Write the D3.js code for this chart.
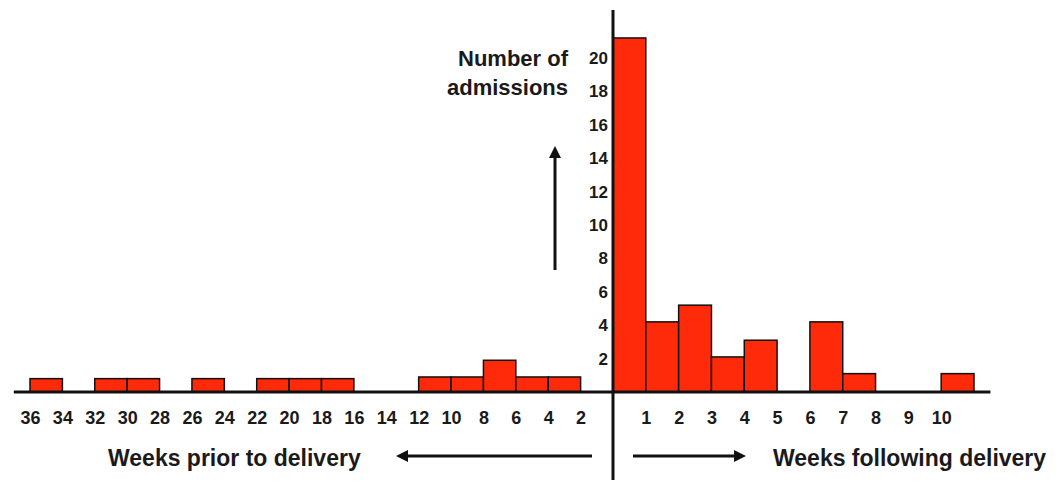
<!DOCTYPE html>
<html lang="en">
    <head>
        <meta charset="utf-8">
        <title>Admissions around delivery</title>
        <script src="https://d3js.org/d3.v7.min.js"></script>
        <style type="text/css">
            body { margin: 0; background: #fff; }
            text { font-family: "Liberation Sans", Arial, sans-serif; font-weight: bold; fill: #1a1a1a; }
        </style>
    </head>
    <body>
        <script type="text/javascript">

            const w = 1058;
            const h = 482;

            // weeks before delivery, 2-week bins (start of bin counted back from delivery)
            const priorBinStart = [36, 34, 32, 30, 28, 26, 24, 22, 20, 18, 16, 14, 12, 10, 8, 6, 4, 2];
            const priorCounts   = [0.8, 0, 0.8, 0.8, 0, 0.8, 0, 0.8, 0.8, 0.8, 0, 0, 0.9, 0.9, 1.9, 0.9, 0.9, 0];

            // weeks after delivery, 1-week bins
            const afterBinStart = [0, 1, 2, 3, 4, 5, 6, 7, 8, 9, 10];
            const afterCounts   = [21.2, 4.2, 5.2, 2.1, 3.1, 0, 4.2, 1.1, 0, 0, 1.1];

            const priorTicks = [36, 34, 32, 30, 28, 26, 24, 22, 20, 18, 16, 14, 12, 10, 8, 6, 4, 2];
            const afterTicks = [1, 2, 3, 4, 5, 6, 7, 8, 9, 10];
            const yTicks = [2, 4, 6, 8, 10, 12, 14, 16, 18, 20];

            const red = "#ff2a0a";

            const xPrior = d3.scaleLinear().domain([0, 36]).range([613, 30]);
            const xAfter = d3.scaleLinear().domain([0, 11]).range([613, 974]);
            const yScale = d3.scaleLinear().domain([0, 20]).range([392, 58]);

            const svg = d3.select("body")
                          .append("svg")
                          .attr("width", w)
                          .attr("height", h);

            const defs = svg.append("defs");
            defs.append("marker")
                .attr("id", "head")
                .attr("viewBox", "0 0 10 10")
                .attr("refX", 5)
                .attr("refY", 5)
                .attr("markerWidth", 4)
                .attr("markerHeight", 4)
                .attr("orient", "auto")
                .append("path")
                .attr("d", "M0,0 L10,5 L0,10 z")
                .attr("fill", "#111");

            // bars before delivery
            svg.selectAll("rect.prior")
               .data(priorBinStart.map((s, i) => ({s: s, v: priorCounts[i]})).filter(d => d.v > 0))
               .enter()
               .append("rect")
               .attr("class", "prior")
               .attr("x", d => xPrior(d.s))
               .attr("y", d => yScale(d.v))
               .attr("width", d => xPrior(d.s - 2) - xPrior(d.s))
               .attr("height", d => yScale(0) - yScale(d.v))
               .attr("fill", red)
               .attr("stroke", "#111")
               .attr("stroke-width", 1.5);

            // bars after delivery
            svg.selectAll("rect.after")
               .data(afterBinStart.map((s, i) => ({s: s, v: afterCounts[i]})).filter(d => d.v > 0))
               .enter()
               .append("rect")
               .attr("class", "after")
               .attr("x", d => xAfter(d.s))
               .attr("y", d => yScale(d.v))
               .attr("width", d => xAfter(d.s + 1) - xAfter(d.s))
               .attr("height", d => yScale(0) - yScale(d.v))
               .attr("fill", red)
               .attr("stroke", "#111")
               .attr("stroke-width", 1.5);

            // baselines
            svg.append("line")
               .attr("x1", xPrior(37)).attr("x2", xPrior(0))
               .attr("y1", yScale(0)).attr("y2", yScale(0))
               .attr("stroke", "#111").attr("stroke-width", 3);
            svg.append("line")
               .attr("x1", xAfter(0)).attr("x2", xAfter(11.5))
               .attr("y1", yScale(0)).attr("y2", yScale(0))
               .attr("stroke", "#111").attr("stroke-width", 3);

            // vertical axis
            svg.append("line")
               .attr("x1", 613).attr("x2", 613)
               .attr("y1", 10).attr("y2", 480)
               .attr("stroke", "#111").attr("stroke-width", 3);

            const leftAxis = d3.axisLeft(yScale)
                               .tickValues(yTicks)
                               .tickSize(0)
                               .tickPadding(3);
            const gy = svg.append("g")
                          .attr("transform", "translate(611,0)")
                          .call(leftAxis);
            gy.select(".domain").remove();
            gy.selectAll("text").style("font-size", "17px").style("font-family", null);

            // x tick labels
            const bottomPrior = d3.axisBottom(xPrior).tickValues(priorTicks).tickSize(0).tickPadding(19);
            const gp = svg.append("g").attr("transform", "translate(0,392)").call(bottomPrior);
            gp.select(".domain").remove();
            gp.selectAll("text").style("font-size", "18px").style("font-family", null);

            const bottomAfter = d3.axisBottom(xAfter).tickValues(afterTicks).tickSize(0).tickPadding(19);
            const ga = svg.append("g").attr("transform", "translate(0,392)").call(bottomAfter);
            ga.select(".domain").remove();
            ga.selectAll("text").style("font-size", "18px").style("font-family", null);

            // y title and arrow
            svg.append("text")
               .attr("x", 568).attr("y", 66)
               .attr("text-anchor", "end")
               .style("font-size", "22px")
               .text("Number of");
            svg.append("text")
               .attr("x", 568).attr("y", 95)
               .attr("text-anchor", "end")
               .style("font-size", "22px")
               .text("admissions");
            svg.append("line")
               .attr("x1", 555).attr("x2", 555)
               .attr("y1", 270).attr("y2", 152)
               .attr("stroke", "#111").attr("stroke-width", 3)
               .attr("marker-end", "url(#head)");

            // x titles and arrows
            svg.append("text")
               .attr("x", 108).attr("y", 466)
               .style("font-size", "23px")
               .text("Weeks prior to delivery");
            svg.append("line")
               .attr("x1", 592).attr("x2", 402)
               .attr("y1", 456).attr("y2", 456)
               .attr("stroke", "#111").attr("stroke-width", 3)
               .attr("marker-end", "url(#head)");

            svg.append("text")
               .attr("x", 773).attr("y", 466)
               .style("font-size", "23px")
               .text("Weeks following delivery");
            svg.append("line")
               .attr("x1", 633).attr("x2", 740)
               .attr("y1", 456).attr("y2", 456)
               .attr("stroke", "#111").attr("stroke-width", 3)
               .attr("marker-end", "url(#head)");

        </script>
    </body>
</html>
